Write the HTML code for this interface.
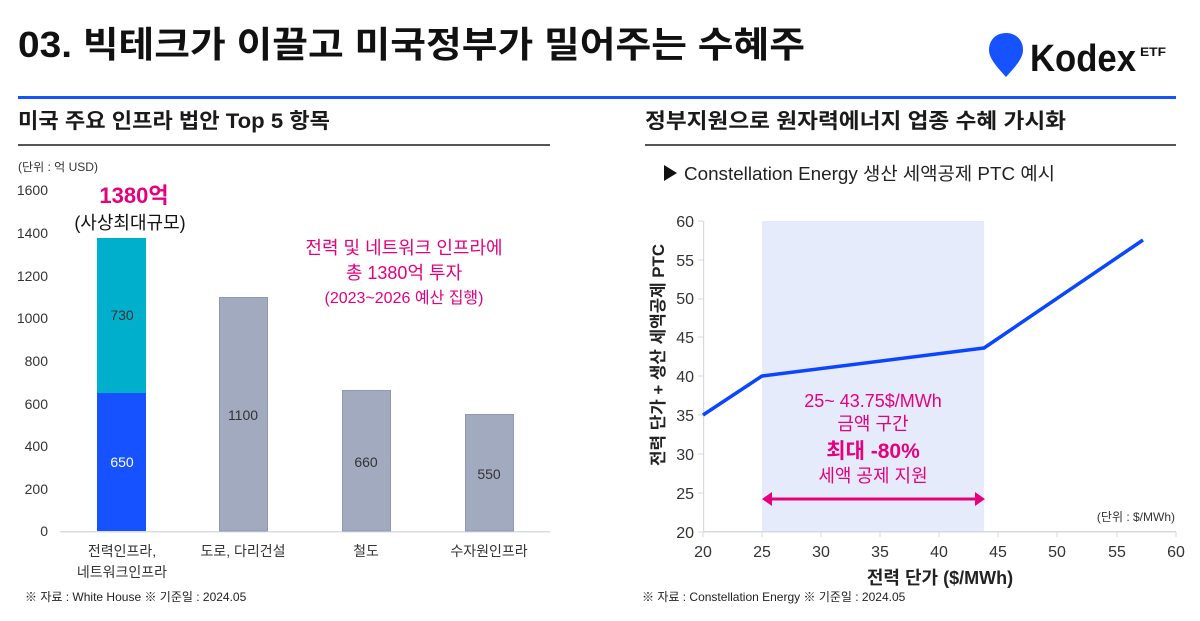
<!DOCTYPE html>
<html><head><meta charset="utf-8"><style>
html,body{margin:0;padding:0;background:#fff;}
svg{display:block;font-family:"Liberation Sans","Noto Sans CJK KR",sans-serif;}
</style></head><body>
<svg width="1200" height="621" viewBox="0 0 1200 621" xmlns="http://www.w3.org/2000/svg">
<rect width="1200" height="621" fill="#fff"/>
<!-- Title -->
<text x="18" y="57" font-size="36" font-weight="700" fill="#111" textLength="787" lengthAdjust="spacingAndGlyphs">03. 빅테크가 이끌고 미국정부가 밀어주는 수혜주</text>
<!-- Logo -->
<path d="M1006,33 C996,33 989,40 989,50 C989,58 996,66 1006,77 C1016,66 1023,58 1023,50 C1023,40 1016,33 1006,33 Z" fill="#1652FF"/>
<text x="1030" y="71" font-size="38" font-weight="700" fill="#111" textLength="106" lengthAdjust="spacingAndGlyphs">Kodex</text>
<text x="1140" y="56" font-size="12" font-weight="700" fill="#111" textLength="26" lengthAdjust="spacingAndGlyphs">ETF</text>
<rect x="18" y="96" width="1158" height="3" fill="#1652FF"/>

<!-- Section headings -->
<text x="18" y="128" font-size="21" font-weight="700" fill="#1a1a1a" textLength="312" lengthAdjust="spacingAndGlyphs">미국 주요 인프라 법안 Top 5 항목</text>
<rect x="18" y="144" width="532" height="2" fill="#555"/>
<text x="645" y="128" font-size="21" font-weight="700" fill="#1a1a1a" textLength="421" lengthAdjust="spacingAndGlyphs">정부지원으로 원자력에너지 업종 수혜 가시화</text>
<rect x="645" y="144" width="531" height="2" fill="#555"/>

<!-- Left chart -->
<text x="18" y="171" font-size="11.5" fill="#333" textLength="80" lengthAdjust="spacingAndGlyphs">(단위 : 억 USD)</text>
<g font-size="14" fill="#333" text-anchor="end">
<text x="48" y="195">1600</text>
<text x="48" y="238">1400</text>
<text x="48" y="281">1200</text>
<text x="48" y="323">1000</text>
<text x="48" y="366">800</text>
<text x="48" y="409">600</text>
<text x="48" y="451">400</text>
<text x="48" y="494">200</text>
<text x="48" y="536">0</text>
</g>
<rect x="60" y="531" width="490" height="1.5" fill="#D9DCE6"/>
<!-- bars -->
<rect x="97" y="238" width="49" height="155" fill="#00AFCC"/>
<rect x="97" y="393" width="49" height="138" fill="#1652FF"/>
<rect x="219.5" y="297.5" width="48" height="233.5" fill="#A2AABF" stroke="#8F98B0" stroke-width="1"/>
<rect x="342.5" y="390.5" width="48" height="140.5" fill="#A2AABF" stroke="#8F98B0" stroke-width="1"/>
<rect x="465.5" y="414.5" width="48" height="116.5" fill="#A2AABF" stroke="#8F98B0" stroke-width="1"/>
<g font-size="14" text-anchor="middle">
<text x="122" y="320" fill="#333">730</text>
<text x="122" y="467" fill="#fff">650</text>
<text x="243" y="420" fill="#333">1100</text>
<text x="366" y="467" fill="#333">660</text>
<text x="489" y="479" fill="#333">550</text>
</g>
<g font-size="14" text-anchor="middle" fill="#333">
<text x="122" y="556">전력인프라,</text>
<text x="122" y="577">네트워크인프라</text>
<text x="243" y="556">도로, 다리건설</text>
<text x="366" y="556">철도</text>
<text x="489" y="556">수자원인프라</text>
</g>
<text x="134" y="203" font-size="22" font-weight="700" fill="#E5007E" text-anchor="middle">1380억</text>
<text x="130" y="229" font-size="18" fill="#111" text-anchor="middle">(사상최대규모)</text>
<g fill="#E5007E" text-anchor="middle">
<text x="404" y="254" font-size="18">전력 및 네트워크 인프라에</text>
<text x="404" y="279" font-size="18">총 1380억 투자</text>
<text x="404" y="303" font-size="16">(2023~2026 예산 집행)</text>
</g>
<text x="25" y="601" font-size="12" fill="#222">※ 자료 : White House ※ 기준일 : 2024.05</text>

<!-- Right chart -->
<polygon points="664,165 664,181 677,173" fill="#111"/>
<text x="684" y="180" font-size="18" fill="#222" textLength="371" lengthAdjust="spacingAndGlyphs">Constellation Energy 생산 세액공제 PTC 예시</text>
<rect x="762" y="221" width="222" height="311" fill="#E6EBFC"/>
<!-- axes -->
<rect x="703" y="221" width="1.2" height="311" fill="#D5D9E6"/>
<rect x="703" y="531" width="473" height="1.5" fill="#D5D9E6"/>
<g stroke="#D5D9E6" stroke-width="1">
<line x1="698" y1="221" x2="703" y2="221"/><line x1="698" y1="260" x2="703" y2="260"/>
<line x1="698" y1="299" x2="703" y2="299"/><line x1="698" y1="337" x2="703" y2="337"/>
<line x1="698" y1="376" x2="703" y2="376"/><line x1="698" y1="415" x2="703" y2="415"/>
<line x1="698" y1="454" x2="703" y2="454"/><line x1="698" y1="493" x2="703" y2="493"/>
<line x1="698" y1="532" x2="703" y2="532"/>
<line x1="703" y1="532" x2="703" y2="537"/><line x1="762" y1="532" x2="762" y2="537"/>
<line x1="821" y1="532" x2="821" y2="537"/><line x1="880" y1="532" x2="880" y2="537"/>
<line x1="939" y1="532" x2="939" y2="537"/><line x1="998" y1="532" x2="998" y2="537"/>
<line x1="1057" y1="532" x2="1057" y2="537"/><line x1="1117" y1="532" x2="1117" y2="537"/>
<line x1="1176" y1="532" x2="1176" y2="537"/>
</g>
<g font-size="16" fill="#333" text-anchor="end">
<text x="694" y="227">60</text><text x="694" y="266">55</text><text x="694" y="304">50</text>
<text x="694" y="343">45</text><text x="694" y="382">40</text><text x="694" y="421">35</text>
<text x="694" y="460">30</text><text x="694" y="499">25</text><text x="694" y="538">20</text>
</g>
<g font-size="16" fill="#333" text-anchor="middle">
<text x="703" y="557">20</text><text x="762" y="557">25</text><text x="821" y="557">30</text>
<text x="880" y="557">35</text><text x="939" y="557">40</text><text x="998" y="557">45</text>
<text x="1057" y="557">50</text><text x="1117" y="557">55</text><text x="1176" y="557">60</text>
</g>
<polyline points="703,415 762,376 984,348 1143,240" fill="none" stroke="#0A45FF" stroke-width="3.5" stroke-linejoin="round"/>
<text transform="translate(664,355) rotate(-90)" font-size="17" font-weight="700" fill="#222" text-anchor="middle" textLength="222" lengthAdjust="spacingAndGlyphs">전력 단가 + 생산 세액공제 PTC</text>
<text x="940" y="584" font-size="18" font-weight="700" fill="#222" text-anchor="middle">전력 단가 ($/MWh)</text>
<!-- annotations -->
<g fill="#E5007E" text-anchor="middle">
<text x="873" y="407" font-size="18">25~ 43.75$/MWh</text>
<text x="873" y="430" font-size="18">금액 구간</text>
<text x="873" y="458" font-size="21" font-weight="700">최대 -80%</text>
<text x="873" y="482" font-size="18">세액 공제 지원</text>
</g>
<line x1="770" y1="499" x2="976" y2="499" stroke="#E5007E" stroke-width="3"/>
<polygon points="762,499 772,492 772,506" fill="#E5007E"/>
<polygon points="985,499 975,492 975,506" fill="#E5007E"/>
<text x="1175" y="521" font-size="12" fill="#333" text-anchor="end">(단위 : $/MWh)</text>
<text x="642" y="601" font-size="12" fill="#222">※ 자료 : Constellation Energy ※ 기준일 : 2024.05</text>
</svg>
</body></html>
